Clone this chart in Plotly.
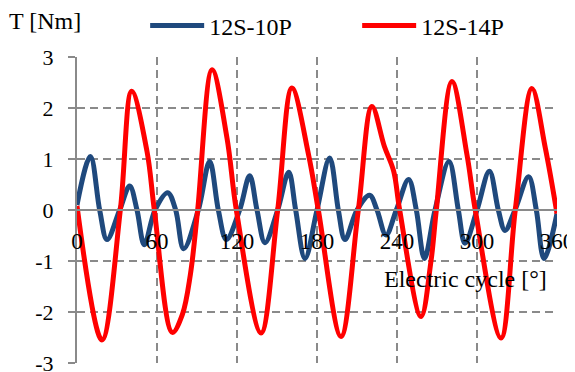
import plotly.graph_objects as go

# Electric angle [deg] and torque [Nm]
angle_10p = [0, 10, 17, 22.5, 32, 39.5, 45, 50.5, 58.5, 68, 74, 80, 91, 99.5, 106, 112,
             122, 129.5, 135, 141, 150.5, 158.8, 164, 171, 180, 189.5, 196, 201, 210,
             219.5, 225, 231.8, 239.5, 248.7, 254.5, 260.6, 268.5, 279, 286, 291, 300,
             309.3, 316, 321, 328.5, 338.7, 344.5, 350.3, 360]
torque_10p = [0.1, 1.05, 0, -0.58, 0, 0.47, 0, -0.68, 0, 0.34, 0, -0.76, 0, 0.95, 0, -0.58,
              0, 0.67, 0, -0.64, 0, 0.74, 0, -0.95, 0, 1.02, 0, -0.58, 0,
              0.29, 0, -0.49, 0, 0.6, 0, -0.95, 0, 0.95, 0, -0.65, 0,
              0.76, 0, -0.4, 0, 0.65, 0, -0.95, -0.07]

angle_14p = [0, 18.7, 32.5, 41, 52.5, 58, 71.5, 79, 85, 90.5, 101.3, 112.5, 119.5, 138,
             150.5, 161.2, 173.7, 181, 198, 211, 221.2, 230.5, 237.5, 242, 258, 265.5,
             269.5, 281.2, 292.5, 298.7, 318, 328.7, 341.2, 351.2, 360]
torque_14p = [0.08, -2.55, 0, 2.33, 1.15, 0, -2.4, -2.05, -1.27, 0, 2.75, 1.41, 0, -2.41,
              0, 2.39, 1.08, 0, -2.48, 0, 2.03, 1.25, 0.76, 0, -2.09, -1.0,
              0, 2.52, 1.08, 0, -2.51, 0, 2.38, 1.22, -0.07]

series_names = ["12S-10P", "12S-14P"]
x_ticks = [0, 60, 120, 180, 240, 300, 360]
y_ticks = [-3, -2, -1, 0, 1, 2, 3]

FONT = "Liberation Serif, 'Times New Roman', Times, serif"
GRID = "#8a8a8a"

fig = go.Figure()
fig.add_trace(go.Scatter(x=angle_10p, y=torque_10p, mode="lines", name=series_names[0],
                         line=dict(color="#1F497D", width=5, shape="spline", smoothing=1.0)))
fig.add_trace(go.Scatter(x=angle_14p, y=torque_14p, mode="lines", name=series_names[1],
                         line=dict(color="#FF0000", width=5, shape="spline", smoothing=1.0)))

# page body has an 8px default margin, so the figure is offset by 8px
fig.update_layout(
    width=575, height=372,
    margin=dict(l=69, r=26, t=49, b=17, autoexpand=False),
    paper_bgcolor="white", plot_bgcolor="white",
    font=dict(family=FONT, size=23, color="black"),
    showlegend=True,
    legend=dict(orientation="h", x=0.142, xanchor="left", y=1.102, yanchor="middle",
                font=dict(family=FONT, size=24), itemwidth=54, entrywidth=143,
                bgcolor="rgba(0,0,0,0)", traceorder="normal"),
    xaxis=dict(range=[0, 360], tickvals=x_ticks, ticktext=[str(v) for v in x_ticks],
               anchor="free", position=0.5, showline=True, linecolor=GRID, linewidth=2,
               showgrid=True, gridcolor=GRID, gridwidth=1.5, griddash="8px,5px",
               zeroline=False, ticks="", tickfont=dict(family=FONT, size=23),
               ticklabelstandoff=10),
    yaxis=dict(range=[-3, 3], tickvals=y_ticks, ticktext=[str(v) for v in y_ticks],
               showline=True, linecolor=GRID, linewidth=2, ticks="outside", ticklen=7,
               tickcolor=GRID, tickwidth=2, showgrid=True, gridcolor=GRID, gridwidth=1.5,
               griddash="8px,5px", zeroline=False, tickfont=dict(family=FONT, size=22),
               ticklabelstandoff=10),
    annotations=[
        dict(text="T [Nm]", xref="paper", yref="paper", x=(7 - 77) / 480, y=(363 - 21) / 306,
             xanchor="left", yanchor="middle", showarrow=False,
             font=dict(family=FONT, size=24)),
        dict(text="Electric cycle [°]", xref="x", yref="y", x=354, y=-1.35,
             xanchor="right", yanchor="middle", showarrow=False,
             font=dict(family=FONT, size=24)),
    ],
)

fig.write_html("out.html")
